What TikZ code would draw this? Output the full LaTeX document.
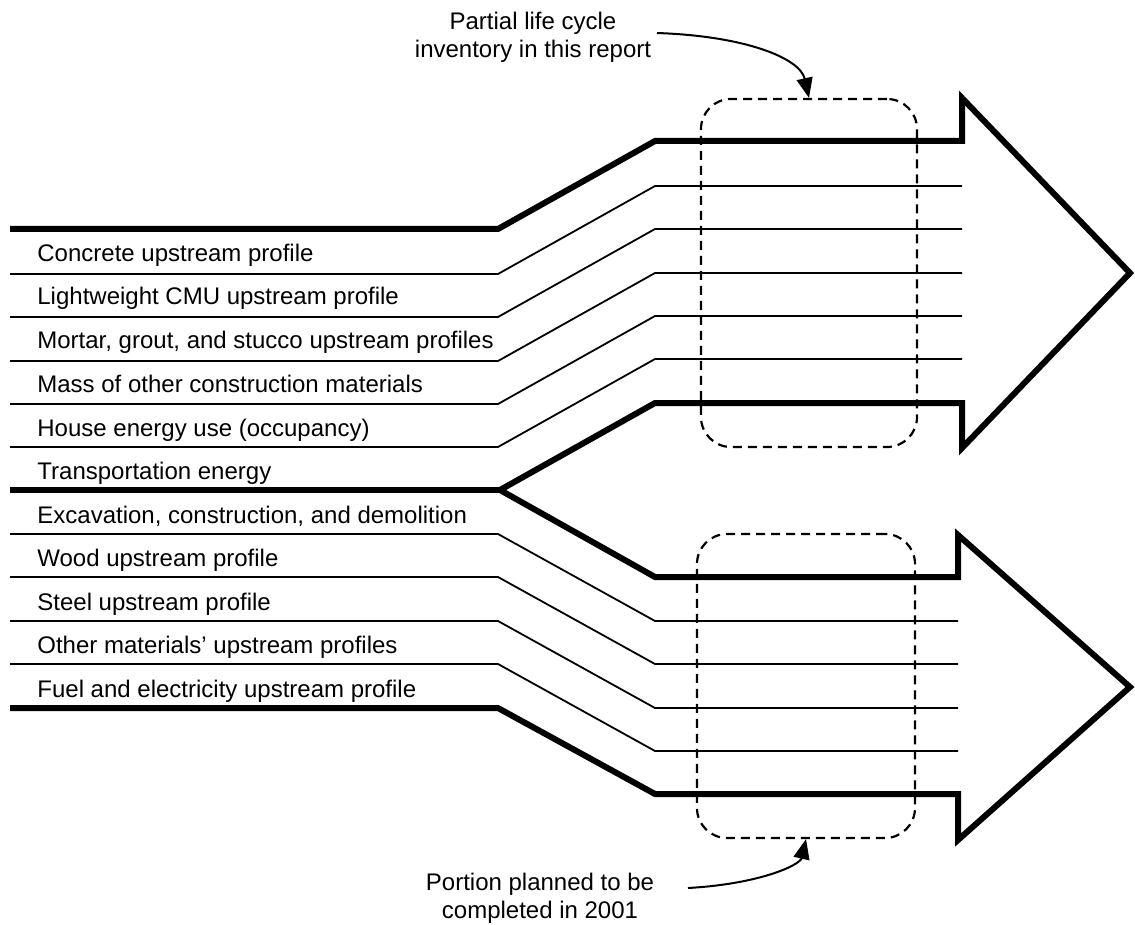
\documentclass[tikz,border=0pt]{standalone}
\usepackage{fontspec}
\setmainfont{Liberation Sans}
\usetikzlibrary{arrows.meta}
\begin{document}
\begin{tikzpicture}[x=0.5pt,y=-0.5pt,
  thickln/.style={line width=3pt, line join=miter, line cap=butt},
  thinln/.style={line width=0.9pt},
  lbl/.style={anchor=base west, inner sep=0pt, font=\fontsize{12pt}{14pt}\selectfont},
  note/.style={align=center, inner sep=2pt, font=\fontsize{12pt}{14pt}\selectfont},
  dashbox/.style={draw, line width=1.1pt, dash pattern=on 4.5pt off 3pt, rounded corners=15pt, inner sep=0pt},
  pointer/.style={line width=1pt, -{Triangle[length=10pt,width=8pt]}}
]
\useasboundingbox (0,0) rectangle (1135,925);

% thin lines of upper arrow
\foreach \r in {186,229,273,316,359}
  \draw[thinln] (10,\r+88) -- (498,\r+88) -- (655,\r) -- (962,\r);
% thin lines of lower arrow
\foreach \l in {534,577,621,664}
  \draw[thinln] (10,\l) -- (498,\l) -- (655,\l+87) -- (958,\l+87);

% thick outlines of both arrows
\draw[thickln] (10,229) -- (498,229) -- (655,141) -- (962,141) -- (962,98)
  -- (1130,273) -- (962,448) -- (962,403) -- (655,403) -- (500,490)
  -- (655,577) -- (958,577) -- (958,535) -- (1130,687) -- (958,840)
  -- (958,794) -- (655,794) -- (498,708) -- (10,708);
\draw[thickln] (10,490) -- (500,490);

% labels
\node[lbl] (l1)  at (37,262) {Concrete upstream profile};
\node[lbl] (l2)  at (37,305) {Lightweight CMU upstream profile};
\node[lbl] (l3)  at (37,349) {Mortar, grout, and stucco upstream profiles};
\node[lbl] (l4)  at (37,392) {Mass of other construction materials};
\node[lbl] (l5)  at (37,436) {House energy use (occupancy)};
\node[lbl] (l6)  at (37,479) {Transportation energy};
\node[lbl] (l7)  at (37,523) {Excavation, construction, and demolition};
\node[lbl] (l8)  at (37,566) {Wood upstream profile};
\node[lbl] (l9)  at (37,610) {Steel upstream profile};
\node[lbl] (l10) at (37,653) {Other materials’ upstream profiles};
\node[lbl] (l11) at (37,697) {Fuel and electricity upstream profile};

% dashed boxes
\node[dashbox, minimum width=108pt, minimum height=174pt] (box1) at (809,273) {};
\node[dashbox, minimum width=109pt, minimum height=152pt] (box2) at (806,686) {};

% annotations
\node[note, anchor=base] (n1) at (533,58) {Partial life cycle\\inventory in this report};
\coordinate (p1) at (657,33);
\draw[pointer] (p1) .. controls (745,36) and (800,58) .. (box1.north);

\node[note, anchor=base] (n2) at (540,918) {Portion planned to be\\completed in 2001};
\coordinate (p2) at (688,888);
\draw[pointer] (p2) .. controls (760,884) and (800,865) .. (box2.south);
\end{tikzpicture}
\end{document}
